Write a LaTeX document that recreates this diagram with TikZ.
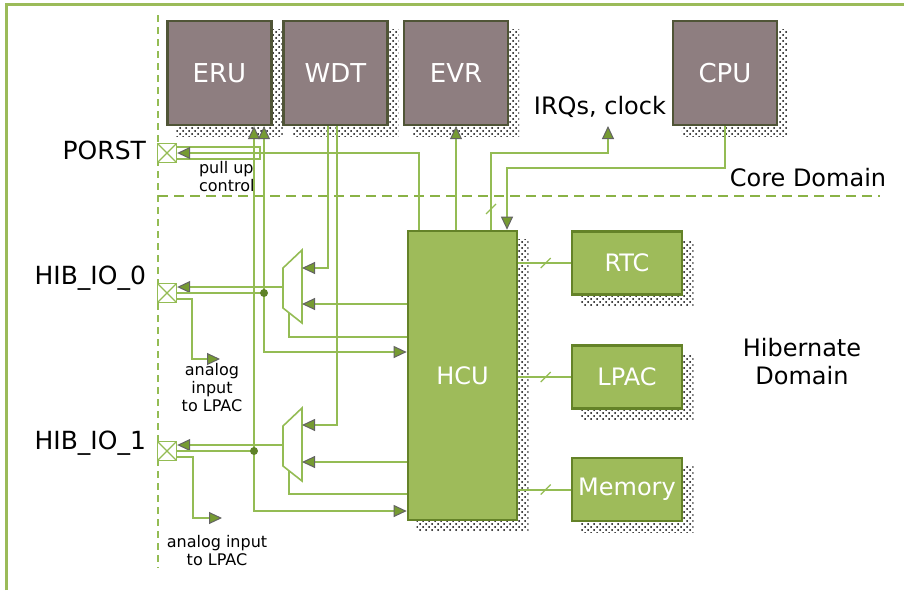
\documentclass[tikz,border=0pt]{standalone}
\usepackage{fontspec}
\setsansfont{DejaVu Sans}
\usetikzlibrary{arrows.meta,patterns,backgrounds}
\definecolor{lgreen}{RGB}{148,188,84}
\definecolor{framegreen}{RGB}{155,187,89}
\definecolor{domgreen}{RGB}{138,178,70}
\definecolor{hibfill}{RGB}{158,187,90}
\definecolor{hibedge}{RGB}{100,130,40}
\definecolor{mauve}{RGB}{142,126,128}
\definecolor{coreedge}{RGB}{80,85,55}
\definecolor{arrfill}{RGB}{118,155,50}
\definecolor{arredge}{RGB}{100,100,100}
\definecolor{dotgreen}{RGB}{95,130,40}

\begin{document}
\begin{tikzpicture}[x=0.5pt, y=-0.5pt, font=\sffamily\fontsize{12}{14}\selectfont,
  core/.style={draw=coreedge, fill=mauve, line width=1.2pt, minimum width=52pt, minimum height=52pt, inner sep=0pt, text=white, font=\sffamily\fontsize{13}{15}\selectfont},
  hib/.style={draw=hibedge, fill=hibfill, line width=1.3pt, minimum width=55pt, minimum height=31.5pt, inner sep=0pt, text=white},
  pad/.style={draw=lgreen, fill=white, line width=.7pt, minimum size=9.5pt, inner sep=0pt, path picture={\draw[lgreen, line width=.6pt] (path picture bounding box.north west) -- (path picture bounding box.south east) (path picture bounding box.south west) -- (path picture bounding box.north east);}},
  pin/.style={anchor=east, font=\sffamily\fontsize{12.5}{14}\selectfont},
  sig/.style={draw=lgreen, line width=1pt},
  arr/.style={sig, -{Triangle[length=6.5pt, width=6pt, color=arredge, fill=arrfill, line width=.5pt]}},
  mux/.style={draw=lgreen, fill=white, line width=.8pt},
  dot/.style={fill=dotgreen},
  small/.style={font=\sffamily\fontsize{8}{9}\selectfont, align=center},
  dotshadow/.style={pattern=crosshatch dots, pattern color=black}]
\useasboundingbox (0,0) rectangle (904,590);
\draw[framegreen, line width=1.5pt] (6,590) -- (6,4) -- (904,4);
\draw[lgreen, line width=.6pt, dash pattern=on 3.5pt off 2.5pt] (158,15) -- (158,568);
\draw[domgreen, line width=1.2pt, dash pattern=on 5pt off 3pt] (158,196) -- (880,196);
\node[core] (ERU) at (219.5,73) {ERU}; \node[core] (WDT) at (335.5,73) {WDT}; \node[core] (EVR) at (456,73) {EVR}; \node[core] (CPU) at (725,73) {CPU};
\node[hib, minimum width=54.5pt, minimum height=144.5pt] (HCU) at (462.5,375.5) {HCU};
\node[hib] (RTC) at (627,263) {RTC}; \node[hib] (LPAC) at (627,377) {LPAC}; \node[hib] (MEM) at (627,489.5) {Memory};
\begin{scope}[on background layer]
\foreach \b in {ERU,WDT,EVR,CPU,HCU,RTC,LPAC,MEM} \fill[dotshadow] ([shift={(10,10)}]\b.north west) rectangle ([shift={(10,10)}]\b.south east);
\end{scope}
\node[pad] (P0) at (167,153) {}; \node[pad] (P1) at (167,293) {}; \node[pad] (P2) at (167,451) {};
\node[pin] (lP0) at (153,150) {PORST}; \node[pin] (lP1) at (153,278) {HIB\_IO\_0}; \node[pin] (lP2) at (153,443) {HIB\_IO\_1};
\draw[mux] (302,250) -- (283,268) -- (283,308) -- (302,323) -- cycle;
\coordinate (M0o) at (283,287); \coordinate (M0a) at (302,268); \coordinate (M0b) at (302,304); \coordinate (M0s) at (289,313);
\draw[mux] (302,408) -- (283,426) -- (283,466) -- (302,481) -- cycle;
\coordinate (M1o) at (283,445); \coordinate (M1a) at (302,425); \coordinate (M1b) at (302,462); \coordinate (M1s) at (289,471);
\coordinate (D0) at (264,293); \coordinate (D1) at (254,451); \coordinate (A0) at (220,359); \coordinate (A1) at (222,518); \coordinate (Q) at (608,126);
\draw[sig] ([yshift=3pt]P0.east) -| (260,159) -- ([yshift=-3pt]P0.east);
\draw[arr] ([xshift=6pt]HCU.north west) |- (P0.east);
\draw[arr] (M0o) -- (M0o -| P1.east); \draw[sig] (P1.east) -- (D0); \draw[arr] (D0) -- (D0 |- ERU.south); \draw[arr] (D0) |- (HCU.west |- 0,352);
\draw[arr] (WDT.south -| 328,0) |- (M0a); \draw[arr] (HCU.west |- M0b) -- (M0b); \draw[sig] (HCU.west |- 0,337) -| (M0s);
\draw[arr] ([yshift=-3pt]P1.east) -| (192,359) -- (A0);
\draw[arr] (M1o) -- (M1o -| P2.east); \draw[sig] (P2.east) -- (D1); \draw[arr] (D1) -- (D1 |- ERU.south); \draw[arr] (D1) |- (HCU.west |- 0,511);
\draw[arr] (WDT.south -| 337,0) |- (M1a); \draw[arr] (HCU.west |- M1b) -- (M1b); \draw[sig] (HCU.west |- 0,494) -| (M1s);
\draw[arr] ([yshift=-3pt]P2.east) -| (193,518) -- (A1);
\draw[arr] (HCU.north -| EVR.south) -- (EVR.south);
\draw[arr] (HCU.north -| 491,0) |- (608,153) -- (Q); \draw[sig, line width=.6pt] (486,214) -- (496,204);
\draw[arr] (CPU.south) |- (507,168) -- (HCU.north -| 507,0);
\foreach \b in {RTC,LPAC,MEM} {\draw[sig] (HCU.east |- \b.west) -- (\b.west); \draw[sig, line width=.6pt] ([shift={(-30,5)}]\b.west) -- ([shift={(-20,-5)}]\b.west);}
\fill[dot] (D0) circle (2pt); \fill[dot] (D1) circle (2pt);
\node[small, anchor=west, align=left] (tPU) at (192,177) {pull up\\control};
\node[small] (tA0) at (212,388) {analog\\input\\to LPAC}; \node[small] (tA1) at (217,551) {analog input\\to LPAC};
\node (tIRQ) at (600,107) {IRQs, clock}; \node (tCore) at (808,178) {Core Domain}; \node[align=center] (tHib) at (802,362) {Hibernate\\Domain};
\end{tikzpicture}
\end{document}
